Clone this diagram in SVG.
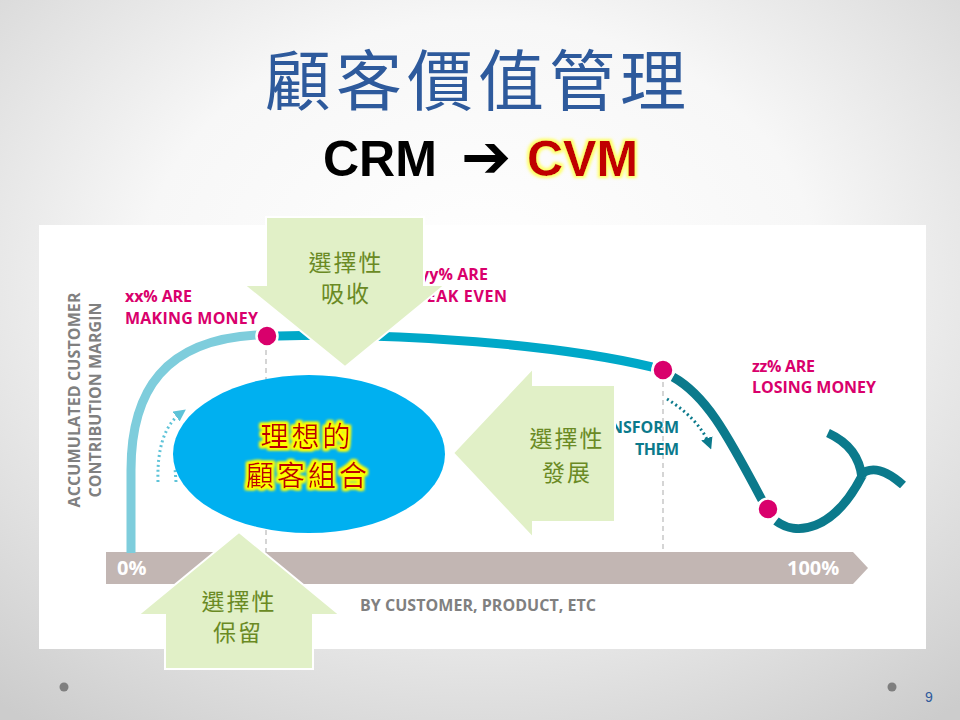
<svg xmlns="http://www.w3.org/2000/svg" width="960" height="720" viewBox="0 0 960 720">
<defs>
<radialGradient id="bg" cx="50%" cy="38%" r="78%">
<stop offset="0" stop-color="#ffffff"/>
<stop offset="0.45" stop-color="#f7f7f7"/>
<stop offset="1" stop-color="#cccccc"/>
</radialGradient>
<filter id="glow" x="-20%" y="-40%" width="140%" height="180%">
<feMorphology in="SourceAlpha" operator="dilate" radius="2" result="d"/>
<feGaussianBlur in="d" stdDeviation="1.6" result="b"/>
<feFlood flood-color="#FFFF00"/>
<feComposite in2="b" operator="in" result="g"/>
<feMerge><feMergeNode in="g"/><feMergeNode in="g"/><feMergeNode in="SourceGraphic"/></feMerge>
</filter>
<filter id="glow2" x="-20%" y="-40%" width="140%" height="180%">
<feMorphology in="SourceAlpha" operator="dilate" radius="1.5" result="d"/>
<feGaussianBlur in="d" stdDeviation="1.4" result="b"/>
<feFlood flood-color="#FFFF66"/>
<feComposite in2="b" operator="in" result="g"/>
<feMerge><feMergeNode in="g"/><feMergeNode in="SourceGraphic"/></feMerge>
</filter>
<marker id="ahL" viewBox="0 0 10 10" refX="5" refY="5" markerWidth="4" markerHeight="4" orient="auto"><path d="M0,0 L10,5 L0,10 Z" fill="#5EC3D8"/></marker>
<marker id="ahR" viewBox="0 0 10 10" refX="5" refY="5" markerWidth="4" markerHeight="4" orient="auto"><path d="M0,0 L10,5 L0,10 Z" fill="#0B7A8C"/></marker>
<style>
.lbl{font-family:"Open Sans","Liberation Sans",sans-serif;font-weight:700;font-size:16px}
.pink{fill:#D9006C}
.teal{fill:#0B7A8C}
.gray{fill:#808080}
.axnum{font-family:"Open Sans","Liberation Sans",sans-serif;font-weight:700;font-size:20px;fill:#ffffff}
.green{fill:#E1F0C7;stroke:#ffffff;stroke-width:2}
.gtxt{font-family:"Noto Sans CJK TC","Noto Sans CJK SC",sans-serif;font-weight:400;font-size:23px;fill:#6A8A24;text-anchor:middle;letter-spacing:2px}
.dot{fill:#D9006C;stroke:#ffffff;stroke-width:2.5}
.dash{stroke:#C8C8C8;stroke-width:1.5;stroke-dasharray:5 4;fill:none}
.crv{fill:none;stroke-width:9}
</style>
</defs>
<rect x="0" y="0" width="960" height="720" fill="url(#bg)"/>

<g id="title">
<text x="478" y="105" text-anchor="middle" font-family="Noto Sans CJK TC, Noto Sans CJK SC, sans-serif" font-size="66" letter-spacing="5" fill="#2E5A9C">顧客價值管理</text>
</g>
<g id="subtitle">
<text x="323" y="176" font-family="Liberation Sans, Arial, sans-serif" font-weight="700" font-size="50" fill="#000000">CRM</text>
<text x="461" y="177" font-family="DejaVu Sans, sans-serif" font-weight="700" font-size="60" fill="#000000">➔</text>
<text x="527" y="176" font-family="Liberation Sans, Arial, sans-serif" font-weight="700" font-size="50" fill="#C00000" filter="url(#glow2)">CVM</text>
</g>

<g id="chart-frame">
<rect x="39" y="225" width="887" height="424" fill="#ffffff"/>
</g>

<g id="axis">
<polygon points="106,552 853,552 868,568 853,584 106,584" fill="#C2B6B3"/>
<text class="axnum" x="117" y="575">0%</text>
<text class="axnum" x="787" y="575">100%</text>
<text class="lbl gray" x="360" y="611" textLength="236">BY CUSTOMER, PRODUCT, ETC</text>
<text class="lbl gray" transform="translate(80,400) rotate(-90)" text-anchor="middle" textLength="215">ACCUMULATED CUSTOMER</text>
<text class="lbl gray" transform="translate(101,400) rotate(-90)" text-anchor="middle" textLength="195">CONTRIBUTION MARGIN</text>
</g>

<g id="connectors">
<line class="dash" x1="266" y1="350" x2="266" y2="552"/>
<line class="dash" x1="663" y1="382" x2="663" y2="552"/>
<path class="crv" stroke="#7ECDDC" d="M131,553 L131,470 C131,390 165,340 257,335"/>
<path class="crv" stroke="#00A8C8" d="M278,336 C400,332 560,345 652,367"/>
<path class="crv" stroke="#0B7A8C" d="M673,377 C705,395 725,430 762,500"/>
<path class="crv" stroke="#0B7A8C" d="M776,521 C796,536 833,532 862,476"/>
<path class="crv" stroke="#0B7A8C" d="M828,433 C850,443 860,458 862,478"/>
<path class="crv" stroke="#0B7A8C" d="M860,475 C872,465 886,470 903,485"/>
<path fill="none" stroke="#5EC3D8" stroke-width="3" stroke-dasharray="2 3" d="M158,482 C157,452 163,426 181,413" marker-end="url(#ahL)"/>
<path fill="none" stroke="#5EC3D8" stroke-width="3" stroke-dasharray="2 3" d="M176,482 L175,468"/>
<path fill="none" stroke="#0B7A8C" stroke-width="3" stroke-dasharray="2 3" d="M667,399 C685,410 702,426 709,444" marker-end="url(#ahR)"/>
</g>

<g id="dots">
<circle class="dot" cx="267" cy="336" r="10.5"/>
<circle class="dot" cx="663" cy="370" r="10.5"/>
<circle class="dot" cx="768" cy="509" r="10.5"/>
</g>

<g id="labels">
<text class="lbl pink" x="125" y="302" textLength="67">xx% ARE</text>
<text class="lbl pink" x="125" y="324" textLength="133">MAKING MONEY</text>
<text class="lbl pink" x="420" y="280" textLength="68">yy% ARE</text>
<text class="lbl pink" x="404" y="302" textLength="103">BREAK EVEN</text>
<text class="lbl pink" x="752" y="372" textLength="63">zz% ARE</text>
<text class="lbl pink" x="752" y="393" textLength="124">LOSING MONEY</text>
<text class="lbl teal" x="679" y="433" text-anchor="end">TRANSFORM</text>
<text class="lbl teal" x="679" y="455" text-anchor="end" textLength="44">THEM</text>
</g>

<g id="ideal-portfolio">
<ellipse cx="309" cy="454" rx="136" ry="79" fill="#00B0F0"/>
<text x="307" y="447" text-anchor="middle" font-family="Noto Sans CJK TC, Noto Sans CJK SC, sans-serif" font-size="28" letter-spacing="3" fill="#C00000" filter="url(#glow)">理想的</text>
<text x="308" y="486" text-anchor="middle" font-family="Noto Sans CJK TC, Noto Sans CJK SC, sans-serif" font-size="28" letter-spacing="3" fill="#C00000" filter="url(#glow)">顧客組合</text>
</g>

<g id="arrow-absorb">
<polygon class="green" points="266,217 424,217 424,285 445,285 345,367 244,285 266,285"/>
<text class="gtxt" x="346" y="271">選擇性</text>
<text class="gtxt" x="346" y="302">吸收</text>
</g>

<g id="arrow-develop">
<polygon class="green" points="615,385 615,522 533,522 533,538 453,453 533,368 533,385"/>
<text class="gtxt" x="567" y="447">選擇性</text>
<text class="gtxt" x="567" y="481">發展</text>
</g>

<g id="arrow-retain">
<polygon class="green" points="165,669 313,669 313,615 340,615 239,532 138,615 165,615"/>
<text class="gtxt" x="239" y="610">選擇性</text>
<text class="gtxt" x="238" y="641">保留</text>
</g>

<g id="footer">
<circle cx="64" cy="687" r="4.5" fill="#7F7F7F"/>
<circle cx="892" cy="687" r="4.5" fill="#7F7F7F"/>
<text x="925" y="702" font-family="Liberation Sans, Arial, sans-serif" font-size="14" fill="#2E5A9C">9</text>
</g>
</svg>
